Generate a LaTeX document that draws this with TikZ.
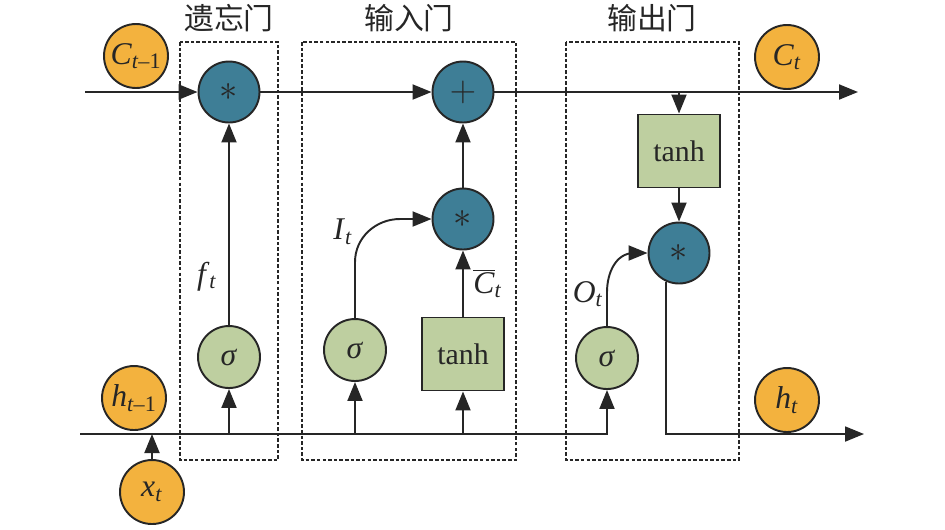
\documentclass[tikz,border=0pt]{standalone}
\usepackage{fontspec}
\setmainfont{Liberation Serif}
\newfontfamily\cjk{Noto Sans CJK SC}
\usepackage{tikz}
\usetikzlibrary{arrows.meta}

\definecolor{cellorange}{RGB}{243,178,62}
\definecolor{opteal}{RGB}{62,126,150}
\definecolor{gategreen}{RGB}{190,207,160}
\definecolor{linegray}{RGB}{38,38,38}

% italic variable with subscript
\newcommand{\lvar}[2]{\textit{#1}\textsubscript{#2}}

\begin{document}
\begin{tikzpicture}[x=0.02cm, y=-0.02cm, line width=1.1pt, color=linegray,
    state/.style={circle, draw, fill=cellorange, minimum size=1.28cm, inner sep=0pt, font=\fontsize{18}{20}\selectfont},
    op/.style={circle, draw, fill=opteal, minimum size=1.22cm, inner sep=0pt, font=\fontsize{20}{22}\selectfont},
    gate/.style={circle, draw, fill=gategreen, minimum size=1.24cm, inner sep=0pt, font=\fontsize{18}{20}\selectfont},
    act/.style={rectangle, draw, fill=gategreen, minimum width=1.64cm, minimum height=1.46cm, font=\fontsize{17}{20}\selectfont},
    gatebox/.style={draw, line width=0.8pt, dash pattern=on 2pt off 1.2pt},
    title/.style={font=\cjk\fontsize{17}{20}\selectfont},
    lbl/.style={font=\fontsize{18}{20}\selectfont},
    flow/.style={-{Triangle[length=0.38cm,width=0.3cm]}}]
    \useasboundingbox (0,0) rectangle (945,529);
    % gate frames
    \draw[gatebox] (180,42) rectangle (278,460);
    \draw[gatebox] (302,42) rectangle (516,460);
    \draw[gatebox] (566,42) rectangle (739,460);
    \node[title] (ftitle) at (229,18) {遗忘门};
    \node[title] (ititle) at (409,18) {输入门};
    \node[title] (otitle) at (652,18) {输出门};
    % states
    \node[state] (cprev) at (136,56) {\lvar{C}{\textit{t}–1}};
    \node[state] (cnext) at (787,57) {\lvar{C}{\textit{t}}};
    \node[state] (hprev) at (134,398) {\lvar{h}{\textit{t}–1}};
    \node[state] (hnext) at (787,400) {\lvar{h}{\textit{t}}};
    \node[state] (xin) at (152,492) {\lvar{x}{\textit{t}}};
    % operations
    \node[op] (fmul) at (229,92) {$*$};
    \node[op] (iadd) at (463,92) {$+$};
    \node[op] (imul) at (463,219) {$*$};
    \node[op] (omul) at (679,253) {$*$};
    \node[gate] (fsig) at (229,357) {\textit{σ}};
    \node[gate] (isig) at (355,350) {\textit{σ}};
    \node[gate] (osig) at (607,358) {\textit{σ}};
    \node[act] (itanh) at (463,354) {tanh};
    \node[act] (otanh) at (679,151) {tanh};
    % line ends
    \coordinate (cin) at (85,92);
    \coordinate (cout) at (858,92);
    \coordinate (ctap) at (679,92);
    \coordinate (hin) at (80,434);
    \coordinate (hout) at (864,434);
    % cell state
    \draw[flow] (cin) -- (fmul);
    \draw[flow] (fmul) -- (iadd);
    \draw[flow] (iadd) -- (cout);
    \draw[flow] (ctap) -- (otanh);
    % hidden state
    \draw[flow] (hin) -| (osig);
    \foreach \g in {fsig,isig,itanh} {\draw[flow] (\g |- hin) -- (\g);}
    \draw[flow] (xin) -- (xin |- hin);
    \draw[flow] (omul.245) -- (omul.245 |- hout) -- (hout);
    % gates
    \draw[flow] (fsig) -- node[lbl, pos=0.24, left=3pt] {\lvar{f}{\textit{t}}} (fmul);
    \draw[flow] (imul) -- (iadd);
    \draw[flow] (itanh) -- node[lbl, right=2pt] {$\overline{\mbox{\textit{C}}}$\textsubscript{\textit{t}}} (imul);
    \draw[flow] (isig.north) -- (355,262) to[out=90,in=180] (400,219) -- (imul.west);
    \node[lbl] (ilbl) at (343,232) {\lvar{I}{\textit{t}}};
    \draw[flow] (otanh) -- (omul);
    \draw[flow] (osig.north) -- (607,292) to[out=90,in=180] (634,253) -- (omul.west);
    \node[lbl] (olbl) at (588,294) {\lvar{O}{\textit{t}}};
\end{tikzpicture}
\end{document}
